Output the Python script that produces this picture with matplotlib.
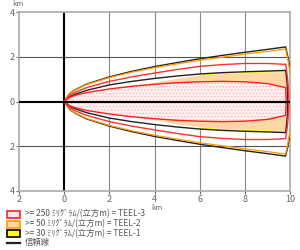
import numpy as np
import matplotlib
matplotlib.use("Agg")
import matplotlib.pyplot as plt
from matplotlib.patches import Rectangle
from matplotlib.lines import Line2D

plt.rcParams['font.family'] = ['Noto Sans CJK JP', 'DejaVu Sans']
plt.rcParams['hatch.linewidth'] = 0.6

# downwind distance (km) sample points
xs = [0, 0.25, 0.5, 1, 2, 3, 4, 5, 6, 7, 8, 9, 9.8]
# crosswind half-widths (km), upper half (lower half mirrored)
conf_teel1 = [0, 0.36, 0.53, 0.78, 1.10, 1.35, 1.56, 1.74, 1.91, 2.06, 2.20, 2.33, 2.44]   # black
conf_teel2 = [0, 0.35, 0.52, 0.76, 1.07, 1.31, 1.51, 1.68, 1.84, 1.98, 2.12, 2.24, 2.35]   # orange
conf_teel3 = [0, 0.28, 0.42, 0.62, 0.90, 1.10, 1.27, 1.43, 1.57, 1.65, 1.70, 1.70, 1.66]   # red
zone_teel1 = [0, 0.22, 0.33, 0.50, 0.74, 0.90, 1.03, 1.14, 1.23, 1.29, 1.33, 1.36, 1.39]   # black edge
zone_teel2 = [0, 0.19, 0.28, 0.40, 0.57, 0.71, 0.84, 1.02, 1.16, 1.22, 1.26, 1.29, 1.31]   # orange
zone_teel3 = [0, 0.19, 0.28, 0.40, 0.56, 0.68, 0.77, 0.84, 0.88, 0.90, 0.88, 0.80, 0.62]   # red/pink

legend_labels = [">= 250 ﾐﾘｸﾞﾗﾑ/(立方m) = TEEL-3",
                 ">= 50 ﾐﾘｸﾞﾗﾑ/(立方m) = TEEL-2",
                 ">= 30 ﾐﾘｸﾞﾗﾑ/(立方m) = TEEL-1",
                 "信頼線"]
xticks = [-2, 0, 2, 4, 6, 8, 10]
xticklabels = ["2", "0", "2", "4", "6", "8", "10"]
yticks = [-4, -2, 0, 2, 4]
yticklabels = ["4", "2", "0", "2", "4"]


def closed_shape(x, y, n=40):
    x = np.asarray(x, float)
    y = np.asarray(y, float)
    r = np.hypot(x[-1], y[-1])
    a = np.arctan2(y[-1], x[-1])
    t = np.linspace(a, -a, n)
    px = np.concatenate([x, r * np.cos(t), x[::-1]])
    py = np.concatenate([y, r * np.sin(t), -y[::-1]])
    return px, py


fig = plt.figure(figsize=(3.0, 2.5), dpi=100)
ax = fig.add_axes([0.063, 0.236, 0.904, 0.716])
ax.set_xlim(-2, 10)
ax.set_ylim(-4, 4)

# grid
for g in [2, 4, 6, 8]:
    ax.axvline(g, color='#8a8a8a', lw=0.8, zorder=1)
for g in [-2, 2]:
    ax.axhline(g, color='#555555', lw=0.8, zorder=1)
ax.axvline(0, color='black', lw=1.5, zorder=2)
ax.axhline(0, color='black', lw=1.5, zorder=6)

# zones
xa = np.asarray(xs, float)
z1 = np.asarray(zone_teel1, float)
z2 = np.asarray(zone_teel2, float)
px, py = closed_shape(xs, zone_teel1)
ax.fill(px, py, facecolor='white', edgecolor='none', zorder=3)
ax.fill_between(xa, z2, z1, where=xa >= 5.5, facecolor='#ffff00', edgecolor='none', zorder=3.1)
ax.fill_between(xa, -z2, -z1, where=xa >= 5.5, facecolor='#ffff00', edgecolor='none', zorder=3.1)
ax.plot(px, py, color='#222222', lw=1.0, zorder=5)
px, py = closed_shape(xs, zone_teel2)
ax.fill(px, py, facecolor='#fdd8a6', edgecolor='none', zorder=3.2)
px, py = closed_shape(xs, zone_teel3)
ax.fill(px, py, facecolor='#fff0f0', edgecolor='#f7b8b8', lw=0, hatch='.....', zorder=3.4)
ax.plot(px, py, color='#ff2020', lw=1.0, zorder=5.2)

# confidence lines
px, py = closed_shape(xs, conf_teel1)
ax.plot(px, py, color='#222222', lw=1.0, zorder=5)
px, py = closed_shape(xs, conf_teel2)
ax.plot(px, py, color='#ff9900', lw=0.9, zorder=5.1)
px, py = closed_shape(xs, conf_teel3)
ax.plot(px, py, color='#ff3030', lw=1.0, zorder=5.2)

ax.set_xticks(xticks)
ax.set_xticklabels(xticklabels)
ax.set_yticks(yticks)
ax.set_yticklabels(yticklabels)
ax.tick_params(length=2, width=0.8, colors='#666666', labelsize=6.5, pad=1)
for s in ax.spines.values():
    s.set_color('#aaaaaa')
    s.set_linewidth(1.2)

fig.text(18 / 300, 1 - 4 / 250, "km", fontsize=5.5, color='#666666', ha='center', va='center')
fig.text(157 / 300, 1 - 207.5 / 250, "km", fontsize=5.5, color='#666666', ha='center', va='center')

# legend
faces = ['#ffe8e8', '#fdd8a6', '#ffff00']
edges = ['#ff2020', '#ff9900', '#000000']
ys = [214, 224, 233.5]
for fc, ec, yy in zip(faces, edges, ys):
    fig.patches.append(Rectangle((7 / 300, 1 - (yy + 3.5) / 250), 13 / 300, 7 / 250,
                                 transform=fig.transFigure, facecolor=fc, edgecolor=ec, lw=1.2))
fig.lines.append(Line2D([7 / 300, 20 / 300], [1 - 242.5 / 250] * 2, transform=fig.transFigure,
                        color='#222222', lw=1.6))
for lab, yy in zip(legend_labels, ys + [242.5]):
    fig.text(25 / 300, 1 - yy / 250, lab, fontsize=6, color='#555555', va='center', ha='left')

fig.savefig('out.png', dpi=100)
